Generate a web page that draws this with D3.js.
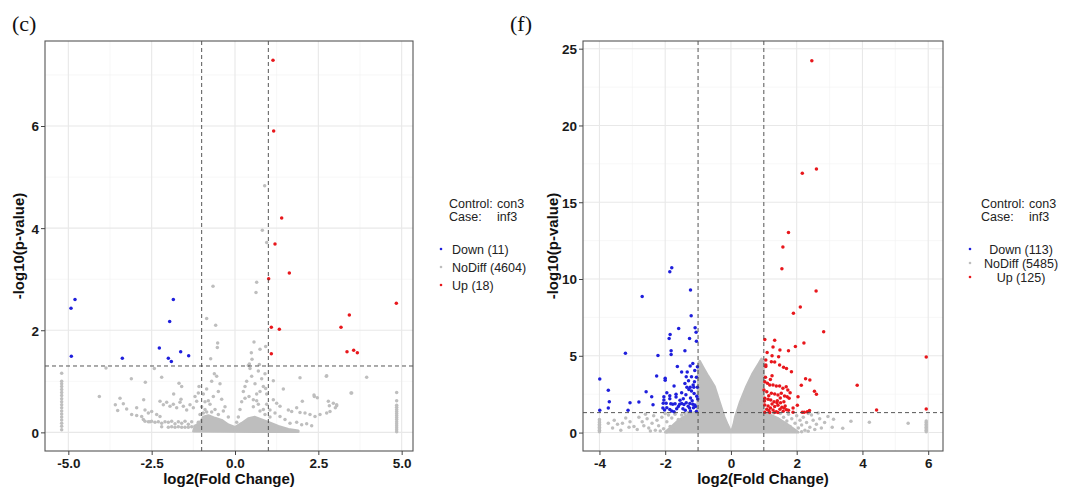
<!DOCTYPE html>
<meta charset="utf-8">
<head>
<style>
  body { margin: 0; background: #fff; }
  text { font-family: "Liberation Sans", Arial, sans-serif; }
  .tick-label { font-size: 13.5px; font-weight: bold; fill: #1a1a1a; }
  .axis-title { font-size: 15px; font-weight: bold; fill: #111; }
  .legend { font-size: 12.5px; fill: #222; }
  .panel-tag { font-family: "Liberation Serif", "DejaVu Serif", serif; font-size: 22px; fill: #111; }
</style>
</head>
<body>
<script src="https://d3js.org/d3.v7.min.js"></script>
<script>

// ---------- panel (c) data ----------
var cDown = [[-4.80,2.60],[-4.92,2.43],[-4.91,1.49],[-3.38,1.45],[-1.85,2.60],[-1.96,2.17],
  [-2.27,1.65],[-2.00,1.45],[-1.91,1.39],[-1.63,1.58],[-1.39,1.50]];
var cUp = [[1.14,7.29],[1.16,5.90],[1.40,4.20],[1.20,3.69],[1.63,3.12],[1.01,3.01],[1.09,2.06],
  [1.33,2.02],[1.09,1.54],[3.18,2.06],[3.43,2.30],[3.36,1.58],[3.56,1.61],[3.67,1.56],[4.84,2.53]];
// dense cloud outline near the origin (too many overlapping points to list)
var cCore = [[-1.25,0.02],[-1.2,0.12],[-1.05,0.2],[-0.95,0.3],[-0.8,0.33],[-0.6,0.28],[-0.4,0.24],
  [-0.2,0.15],[0,0.1],[0.2,0.18],[0.4,0.27],[0.6,0.3],[0.8,0.25],[1.0,0.2],[1.3,0.12],
  [1.6,0.06],[1.9,0.03],[1.9,0.01]];
var cNoDiff = [
  [-5.2,0.05],[-5.2,0.12],[-5.2,0.18],[-5.2,0.24],[-5.2,0.3],[-5.2,0.36],[-5.2,0.42],[-5.2,0.48],
  [-5.2,0.54],[-5.2,0.6],[-5.2,0.66],[-5.2,0.72],[-5.2,0.78],[-5.2,0.84],[-5.2,0.9],[-5.2,0.95],
  [-5.2,1.0],[-5.2,1.16],
  [4.85,0.01],[4.85,0.05],[4.85,0.09],[4.85,0.13],[4.85,0.17],[4.85,0.21],[4.85,0.25],[4.85,0.29],
  [4.85,0.33],[4.85,0.37],[4.85,0.41],[4.85,0.45],[4.85,0.49],[4.85,0.53],[4.85,0.62],[4.85,0.78],
  [0.89,4.83],[0.82,3.96],[0.95,3.72],[0.65,2.94],[0.63,2.74],[-0.66,2.86],[-0.85,2.23],[-0.58,2.10],
  [-0.52,1.75],[-0.53,1.66],[0.57,1.77],[0.92,1.68],[0.75,1.63],[-0.73,1.44],[0.40,1.31],[0.49,1.56],
  [0.51,1.43],[0.43,1.34],[0.45,1.25],[0.73,1.33],[1.95,1.07],[2.74,1.10],[3.48,0.77],[1.45,0.85],
  [1.15,1.01],[0.92,0.86],[0.30,0.67],[0.42,0.70],[0.55,0.64],[2.02,0.61],[2.38,0.70],[2.47,0.68],
  [2.80,0.61],[2.83,0.52],[3.05,0.52],[3.01,0.48],[1.60,0.44],[1.70,0.41],[1.85,0.48],[1.95,0.39],
  [2.10,0.38],[2.25,0.35],[2.40,0.31],[2.55,0.35],[2.75,0.38],[2.85,0.41],[1.15,0.64],[1.25,0.57],
  [1.35,0.51],[1.05,0.44],[1.20,0.38],[1.35,0.31],[1.50,0.25],[1.65,0.18],[1.85,0.20],[2.00,0.15],
  [2.15,0.17],[2.30,0.13],[0.3,0.9],[0.35,1.0],[0.5,1.1],[0.6,0.95],[0.7,1.2],[0.8,1.05],[0.85,0.9],
  [0.9,1.15],[0.95,0.75],[0.2,0.6],[0.25,0.8],[0.65,0.75],[0.75,0.8],[0.55,0.5],[0.7,0.55],
  [3.95,1.08],[2.75,1.11],[2.37,0.73],[3.5,0.77],[2.95,0.57],[3.05,0.54],
  [-3.87,1.26],[-2.42,1.25],[-3.11,1.05],[-2.2,1.08],[-2.69,0.98],[-4.07,0.70],[-1.68,0.96],
  [-1.60,0.90],[-1.84,0.75],[-1.62,0.65],[-3.45,0.67],[-3.59,0.54],[-3.52,0.43],[-3.35,0.56],
  [-3.25,0.46],[-3.1,0.35],[-2.95,0.33],[-2.8,0.31],[-2.74,0.64],[-2.95,0.48],[-2.7,0.44],
  [-2.6,0.38],[-2.5,0.41],[-2.35,0.35],[-2.25,0.31],[-2.25,0.61],[-2.15,0.54],[-2.05,0.59],
  [-1.95,0.51],[-1.85,0.55],[-1.75,0.48],[-1.65,0.59],[-1.55,0.51],[-1.45,0.44],[-1.35,0.54],
  [-1.25,0.48],[-1.15,0.61],[-1.20,0.70],[-1.10,0.77],[-1.08,0.90],
  [-2.75,0.25],[-2.55,0.21],[-2.40,0.20],[-2.2,0.18],[-2.0,0.20],[-1.8,0.17],[-1.6,0.18],[-1.4,0.16],
  [-2.2,0.11],[-2.0,0.1],[-1.9,0.11],[-1.8,0.1],[-1.7,0.11],[-1.6,0.1],[-1.5,0.1],[-1.4,0.1],
  [-1.3,0.11],[-1.2,0.12],[-2.7,0.22],[-2.6,0.21],[-2.5,0.22],[-2.3,0.21],[-2.1,0.21],[-1.9,0.22],
  [-1.7,0.21],[-1.5,0.22],[-1.3,0.21],[-1.1,0.2],
  [-0.62,1.15],[-0.55,1.1],[-0.7,1.0],[-0.45,0.95],[-0.85,0.85],[-0.5,0.8],[-0.95,0.75],
  [-0.65,0.7],[-0.4,0.65],[-0.9,0.6],[-0.75,0.55],[-0.3,0.5],[-1.0,0.5],[-0.6,0.45],
  [-0.85,0.4],[-0.5,0.35],[-0.2,0.3],[-0.35,0.42],[0.1,0.3],[0.15,0.45],[0.05,0.2],
  [-0.9,0.45],[-0.8,0.62],[-0.7,0.4],[-0.95,0.38],[0.85,0.45],[0.95,0.55],[0.75,0.42],[0.65,0.62],
  [0.9,0.35],[1.05,0.3],[-1.05,0.35]
];

// ---------- panel (f) data ----------
var fDown = [[-1.80,10.74],[-1.86,10.48],[-2.70,8.86],[-1.23,9.29],[-1.21,7.60],[-1.59,6.78],
  [-1.09,6.82],[-1.06,6.54],[-1.26,6.13],[-1.85,6.39],[-1.88,6.13],[-1.05,5.95],[-1.82,5.33],
  [-1.82,5.09],[-1.40,5.33],[-3.21,5.17],[-2.22,5.02],[-3.99,3.49],[-1.16,4.50],[-1.24,4.33],
  [-1.63,4.31],[-1.02,4.28],[-1.50,3.94],[-1.33,3.94],[-1.36,3.64],[-1.20,3.64],[-2.26,3.68],
  [-2.00,3.53],[-1.29,3.38],[-1.11,3.31],[-1.73,3.03],[-1.34,2.95],[-1.24,2.95],[-1.13,2.95],
  [-1.02,2.95],[-3.73,2.75],[-2.58,2.66],[-2.04,2.34],[-2.04,2.12],[-2.41,2.34],[-1.67,2.49],
  [-1.67,2.32],[-1.86,2.40],[-1.86,2.21],[-1.37,2.47],[-1.23,2.25],[-1.18,2.08],[-1.04,2.36],
  [-1.01,2.19],[-3.70,2.01],[-3.07,1.95],[-2.80,1.99],[-2.37,1.82],[-2.06,1.91],[-1.97,1.91],
  [-1.83,1.87],[-1.77,1.84],[-1.70,1.88],[-1.56,1.85],[-1.50,1.89],[-1.43,1.83],[-1.36,1.95],
  [-1.25,1.90],[-1.16,1.84],[-1.10,1.79],[-3.73,1.60],[-3.13,1.45],[-2.07,1.60],[-2.02,1.47],
  [-1.86,1.50],[-1.80,1.40],[-1.73,1.35],[-1.46,1.55],[-1.39,1.45],[-1.26,1.60],[-1.23,1.40],
  [-1.14,1.62],[-1.05,1.38],[-3.99,1.45],[-1.20,2.70],[-1.12,2.55],[-1.28,2.80],[-2.0,3.4],
  [-1.55,2.10],[-1.45,2.20],[-1.60,1.70],[-1.30,1.72],[-1.08,1.70],[-1.95,2.60],[-1.50,2.60],
  [-1.15,3.10],[-1.40,3.20],[-1.05,3.60],[-1.10,4.05],[-1.95,1.62],[-1.65,1.55]];
var fUp = [[2.46,24.22],[2.60,17.17],[2.17,16.88],[1.75,13.03],[1.58,12.08],[1.55,10.67],
  [2.59,9.22],[2.11,8.18],[1.90,7.77],[2.82,6.56],[1.03,6.06],[1.33,6.02],[2.22,5.84],[1.28,5.58],
  [1.96,5.61],[1.49,5.37],[1.75,5.33],[1.10,5.22],[1.25,5.00],[1.45,4.94],[1.06,4.72],[1.23,4.61],
  [1.33,4.59],[1.48,4.40],[1.60,4.25],[1.69,4.18],[1.84,3.96],[1.06,4.40],[1.06,4.30],[2.27,3.51],
  [2.40,3.42],[2.14,3.08],[2.54,2.69],[2.60,2.49],[2.04,2.34],[2.02,1.78],[1.89,1.60],[2.32,1.36],
  [2.39,1.43],[2.17,1.33],[2.23,1.33],[1.89,1.33],[3.84,3.08],[4.43,1.47],[5.94,4.92],[5.94,1.54],
  [1.03,3.31],[1.11,3.21],[1.18,3.10],[1.28,3.10],[1.38,3.03],[1.48,3.03],[1.58,2.88],[1.68,2.99],
  [1.73,2.77],[1.005,2.77],[1.09,2.66],[1.23,2.56],[1.33,2.51],[1.43,2.45],[1.53,2.56],[1.63,2.38],
  [1.71,2.34],[1.03,2.23],[1.13,2.17],[1.21,2.12],[1.31,2.01],[1.41,2.08],[1.51,1.95],[1.61,2.01],
  [1.77,2.23],[1.03,1.80],[1.13,1.73],[1.25,1.86],[1.33,1.69],[1.43,1.78],[1.55,1.65],[1.65,1.73],
  [1.09,1.52],[1.15,1.43],[1.28,1.47],[1.38,1.36],[1.49,1.52],[1.59,1.39],[1.69,1.49],[1.03,1.32],
  [1.18,1.31],[1.33,1.32],[1.43,1.31],[1.05,3.60],[1.20,3.45],[1.15,2.40],[1.50,2.25],[1.02,2.05],
  [1.80,2.60],[1.25,3.70],[1.40,1.95],[1.20,1.60],[1.62,1.60],[1.75,1.45]];
// dense V-shaped cloud of non-significant genes
var fCore = [[-2.0,0.02],[-1.85,0.3],[-1.65,0.7],[-1.45,1.0],[-1.2,1.25],[-1.02,1.4],[-1.0,3.0],
  [-0.99,4.5],[-0.95,4.65],[-0.86,4.3],[-0.7,3.7],[-0.5,3.0],[-0.35,2.0],[-0.2,1.0],[-0.1,0.5],
  [-0.03,0.18],[0,0.14],[0.03,0.18],[0.08,0.5],[0.13,1.0],[0.28,2.0],[0.47,3.0],[0.65,3.8],
  [0.85,4.5],[0.93,4.8],[0.99,4.6],[0.99,1.3],[1.2,1.15],[1.45,0.9],[1.7,0.55],[1.9,0.25],[2.05,0.02]];
var fNoDiff = [
  [-4.0,0.05],[-4.0,0.15],[-4.0,0.25],[-4.0,0.35],[-4.0,0.45],[-4.0,0.55],[-4.0,0.65],[-4.0,0.75],[-4.0,0.85],
  [5.94,0.05],[5.94,0.15],[5.94,0.25],[5.94,0.35],[5.94,0.45],[5.94,0.55],[5.94,0.65],[5.94,0.75],
  [-3.73,0.61],[-3.45,0.55],[-3.3,0.6],[-3.07,0.71],[-3.1,0.35],[-2.95,0.4],[-2.85,0.2],[-2.7,0.7],
  [-2.65,0.45],[-2.55,0.9],[-2.5,0.3],[-2.4,0.6],[-2.35,1.1],[-2.3,0.15],[-2.25,0.8],[-2.2,0.45],
  [-2.1,1.0],[-2.05,0.25],[-1.95,0.7],[-1.9,1.15],[-1.85,0.4],[-1.8,0.95],[-1.75,0.15],[-1.7,1.2],
  [-1.65,0.55],[-1.6,0.85],[-3.55,0.8],[-3.2,0.95],[-2.8,1.0],[-3.6,0.3],[-3.35,0.15],[-2.6,1.2],
  [-1.5,1.15],[-1.4,1.25],[-2.0,1.25],[-1.3,1.3],[-2.15,0.1],[-1.95,0.05],[-2.45,0.1],
  [1.55,0.5],[1.6,1.0],[1.65,0.2],[1.7,0.75],[1.75,1.2],[1.8,0.4],[1.85,0.9],[1.9,0.1],[1.95,0.6],
  [2.0,1.1],[2.05,0.3],[2.1,0.8],[2.15,0.5],[2.2,1.0],[2.25,0.15],[2.3,0.65],[2.4,0.35],[2.45,1.15],
  [2.5,0.8],[2.55,0.2],[2.6,0.55],[2.7,0.9],[2.75,0.3],[2.85,0.65],[2.95,1.05],[3.08,0.35],
  [3.12,0.87],[3.4,0.28],[3.65,0.74],[4.21,0.67],[5.39,0.61],[2.35,1.25],[2.65,1.28],[1.5,1.25],
  [1.3,1.28],[1.15,1.27],[2.15,0.05],[2.35,0.08]
];

var cXTicks = [-5, -2.5, 0, 2.5, 5], cXMinor = [-3.75, -1.25, 1.25, 3.75];
var cYTicks = [0, 2, 4, 6], cYMinor = [1, 3, 5, 7];
var fXTicks = [-4, -2, 0, 2, 4, 6], fXMinor = [-3, -1, 1, 3, 5];
var fYTicks = [0, 5, 10, 15, 20, 25], fYMinor = [2.5, 7.5, 12.5, 17.5, 22.5];
var cLegend = ["Down (11)", "NoDiff (4604)", "Up (18)"];
var fLegend = ["Down (113)", "NoDiff (5485)", "Up (125)"];
var fcCut = 1, pCut = 1.3;

var colBlue = "#1f1fdc", colGray = "#bebebe", colRed = "#e8171c";

var svg = d3.select("body").append("svg")
    .attr("width", 1066)
    .attr("height", 489);

function hyphen(fmt) {
  return function(d) { return fmt(d).replace("\u2212", "-"); };
}

function drawPanel(p) {
  var x = d3.scaleLinear().domain(p.xDomain).range([p.left, p.right]);
  var y = d3.scaleLinear().domain(p.yDomain).range([p.bottom, p.top]);
  var g = svg.append("g");

  // grid
  g.selectAll(".vminor").data(p.xMinor).enter().append("line")
      .attr("x1", x).attr("x2", x).attr("y1", p.top).attr("y2", p.bottom)
      .attr("stroke", "#f2f2f2").attr("stroke-width", 0.6);
  g.selectAll(".hminor").data(p.yMinor).enter().append("line")
      .attr("y1", y).attr("y2", y).attr("x1", p.left).attr("x2", p.right)
      .attr("stroke", "#f2f2f2").attr("stroke-width", 0.6);
  g.selectAll(".vmajor").data(p.xTicks).enter().append("line")
      .attr("x1", x).attr("x2", x).attr("y1", p.top).attr("y2", p.bottom)
      .attr("stroke", "#e8e8e8").attr("stroke-width", 1.1);
  g.selectAll(".hmajor").data(p.yTicks).enter().append("line")
      .attr("y1", y).attr("y2", y).attr("x1", p.left).attr("x2", p.right)
      .attr("stroke", "#e8e8e8").attr("stroke-width", 1.1);

  // dense cloud + points
  g.append("path")
      .datum(p.core)
      .attr("d", d3.line().x(function(d) { return x(d[0]); }).y(function(d) { return y(d[1]); })
          .curve(d3.curveLinearClosed))
      .attr("fill", colGray).attr("stroke", colGray).attr("stroke-width", 2.5)
      .attr("stroke-linejoin", "round");
  [[p.gray, colGray], [p.down, colBlue], [p.up, colRed]].forEach(function(s) {
    g.selectAll(null).data(s[0]).enter().append("circle")
        .attr("cx", function(d) { return x(d[0]); })
        .attr("cy", function(d) { return y(d[1]); })
        .attr("r", 1.75)
        .attr("fill", s[1]);
  });

  // threshold lines
  [-fcCut, fcCut].forEach(function(v) {
    g.append("line").attr("x1", x(v)).attr("x2", x(v)).attr("y1", p.top).attr("y2", p.bottom)
        .attr("stroke", "#444").attr("stroke-width", 0.9).attr("stroke-dasharray", "4,3");
  });
  g.append("line").attr("x1", p.left).attr("x2", p.right).attr("y1", y(pCut)).attr("y2", y(pCut))
      .attr("stroke", "#444").attr("stroke-width", 0.9).attr("stroke-dasharray", "4,3");

  // border
  g.append("rect").attr("x", p.left).attr("y", p.top)
      .attr("width", p.right - p.left).attr("height", p.bottom - p.top)
      .attr("fill", "none").attr("stroke", "#555").attr("stroke-width", 1.1);

  // axes
  var xa = g.append("g").attr("transform", "translate(0," + p.bottom + ")")
      .call(d3.axisBottom(x).tickValues(p.xTicks).tickSize(4).tickPadding(3).tickFormat(hyphen(p.xFmt)));
  var ya = g.append("g").attr("transform", "translate(" + p.left + ",0)")
      .call(d3.axisLeft(y).tickValues(p.yTicks).tickSize(4).tickPadding(2).tickFormat(hyphen(d3.format("d"))));
  [xa, ya].forEach(function(a) {
    a.select(".domain").remove();
    a.selectAll("line").attr("stroke", "#444");
    a.selectAll("text").attr("class", "tick-label").attr("fill", "#1a1a1a").attr("font-family", null).attr("font-size", null);
  });
  ya.selectAll("text").attr("dy", "0.36em");

  // titles
  g.append("text").attr("class", "axis-title").attr("text-anchor", "middle")
      .attr("x", (p.left + p.right) / 2).attr("y", 484).text("log2(Fold Change)");
  g.append("text").attr("class", "axis-title").attr("text-anchor", "middle")
      .attr("transform", "translate(" + p.yTitleX + "," + ((p.top + p.bottom) / 2) + ") rotate(-90)")
      .text("-log10(p-value)");
  g.append("text").attr("class", "panel-tag").attr("x", p.tagX).attr("y", 31).text(p.tag);

  // legend
  var L = p.legend;
  g.append("text").attr("class", "legend").attr("x", L.x).attr("y", 208).text("Control:");
  g.append("text").attr("class", "legend").attr("x", L.x + 48).attr("y", 208).text("con3");
  g.append("text").attr("class", "legend").attr("x", L.x).attr("y", 221).text("Case:");
  g.append("text").attr("class", "legend").attr("x", L.x + 48).attr("y", 221).text("inf3");
  var cols = [colBlue, colGray, colRed];
  L.labels.forEach(function(lab, i) {
    var cy = 249 + i * L.step;
    g.append("circle").attr("cx", L.dotX).attr("cy", cy).attr("r", 1.3).attr("fill", cols[i]);
    g.append("text").attr("class", "legend").attr("x", L.textX).attr("y", cy + 4.5)
        .attr("text-anchor", L.anchor).text(lab);
  });
}

drawPanel({
  left: 45, right: 413, top: 41, bottom: 451,
  xDomain: [-5.7, 5.34], yDomain: [-0.365, 7.665],
  xTicks: cXTicks, xMinor: cXMinor, yTicks: cYTicks, yMinor: cYMinor,
  xFmt: d3.format(".1f"),
  core: cCore, gray: cNoDiff, down: cDown, up: cUp,
  yTitleX: 24, tag: "(c)", tagX: 12,
  legend: { x: 449, dotX: 441, textX: 452, anchor: "start", step: 18, labels: cLegend }
});

drawPanel({
  left: 583, right: 943, top: 41, bottom: 451,
  xDomain: [-4.5, 6.45], yDomain: [-1.2, 25.5],
  xTicks: fXTicks, xMinor: fXMinor, yTicks: fYTicks, yMinor: fYMinor,
  xFmt: d3.format("d"),
  core: fCore, gray: fNoDiff, down: fDown, up: fUp,
  yTitleX: 558, tag: "(f)", tagX: 510,
  legend: { x: 981, dotX: 970, textX: 1021, anchor: "middle", step: 14, labels: fLegend }
});

</script>
</body>
